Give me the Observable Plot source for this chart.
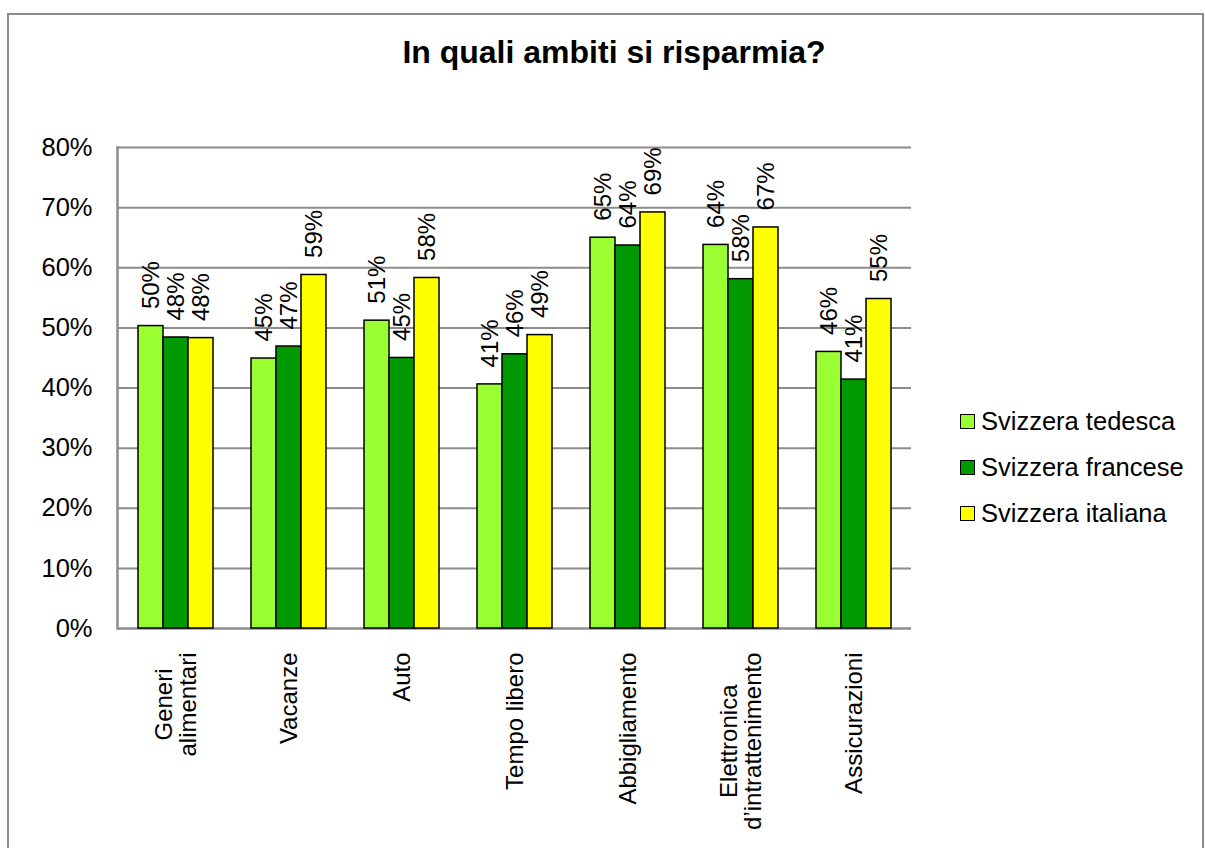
<!DOCTYPE html>
<html>
<head>
<meta charset="utf-8">
<script src="https://cdn.jsdelivr.net/npm/d3@7"></script>
<script src="https://cdn.jsdelivr.net/npm/@observablehq/plot@0.6"></script>
<style>
  html, body { margin: 0; padding: 0; background: #fff; overflow: hidden; }
  #page { position: relative; width: 1205px; height: 848px; font-family: "Liberation Sans", Arial, sans-serif; }
  #border { position: absolute; left: 7px; top: 13px; width: 1197px; height: 900px; border: 2px solid #8c8c8c; box-sizing: border-box; pointer-events: none; }
  #title { position: absolute; left: 314px; width: 600px; top: 34px; text-align: center; font-size: 32px; font-weight: bold; line-height: 1.15; color: #000; }
  .layer { position: absolute; left: 0; top: 0; }
  #legend { position: absolute; left: 960px; top: 406px; }
  .item { display: flex; align-items: center; height: 30px; margin-bottom: 16px; font-size: 25.5px; color: #000; }
  .sw { width: 13px; height: 13px; border: 1.5px solid #000; margin-right: 6px; box-sizing: content-box; }
</style>
</head>
<body>
<div id="page">
  <div id="grid" class="layer"></div>
  <div id="chart" class="layer"></div>
  <div id="title"></div>
  <div id="legend"></div>
  <div id="border"></div>
</div>
<script>
const title = "In quali ambiti si risparmia?";
const categories = ["Generi alimentari", "Vacanze", "Auto", "Tempo libero", "Abbigliamento", "Elettronica d’intrattenimento", "Assicurazioni"];
const categoryLabels = ["Generi\nalimentari", "Vacanze", "Auto", "Tempo libero", "Abbigliamento", "Elettronica\nd’intrattenimento", "Assicurazioni"];
const series = ["Svizzera tedesca", "Svizzera francese", "Svizzera italiana"];
const colors = ["#99ff33", "#009900", "#ffff00"];
const tedesca  = [50.3, 44.9, 51.2, 40.6, 65.0, 63.8, 46.0];
const francese = [48.4, 46.9, 45.0, 45.6, 63.7, 58.1, 41.4];
const italiana = [48.3, 58.8, 58.3, 48.8, 69.2, 66.7, 54.8];
const yTicks = [0, 10, 20, 30, 40, 50, 60, 70, 80];

const values = [tedesca, francese, italiana];
const rows = categories.flatMap((c, i) => series.map((s, j) => ({category: c, series: s, value: values[j][i]})));
const gridColor = "#8c8c8c";
const font = "'Liberation Sans', Arial, sans-serif";

document.getElementById("title").textContent = title;

const frameOpts = {
  width: 1205,
  height: 848,
  marginLeft: 117,
  marginRight: 294,
  marginTop: 147,
  marginBottom: 220,
  style: {background: "transparent", fontFamily: font, fontSize: "24px", color: "#000", overflow: "visible"}
};

// background layer: gridlines, axis lines, y tick labels
const grid = Plot.plot({
  ...frameOpts,
  y: {domain: [0, 80], axis: null},
  marks: [
    Plot.ruleY(yTicks.filter(d => d > 0), {stroke: gridColor, strokeWidth: 2}),
    Plot.ruleY([0], {stroke: gridColor, strokeWidth: 2.5}),
    Plot.frame({anchor: "left", stroke: gridColor, strokeWidth: 2.5}),
    Plot.axisY({ticks: yTicks, tickFormat: d => d + "%", tickSize: 0, tickPadding: 25, fontSize: 25.5, label: null, anchor: "left"})
  ]
});
document.getElementById("grid").appendChild(grid);

// measure the longest line of each category label so shorter lines are centred on it
const ctx = document.createElement("canvas").getContext("2d");
ctx.font = "24px " + font;
const halfLen = categoryLabels.map(l => d3.max(l.split("\n"), s => ctx.measureText(s).width) / 2);

const chart = Plot.plot({
  ...frameOpts,
  fx: {domain: categories, paddingInner: 0.338, paddingOuter: 0.169, axis: null, label: null},
  x: {domain: series, padding: 0, axis: null},
  y: {domain: [0, 80], axis: null},
  color: {domain: series, range: colors},
  marks: [
    Plot.barY(rows, {fx: "category", x: "series", y: "value", fill: "series", stroke: "#000", strokeWidth: 1.5}),
    Plot.text(rows, {fx: "category", x: "series", y: "value", text: d => Math.round(d.value) + "%", rotate: -90, textAnchor: "start", dy: -17, fontSize: 24, fill: "#000"}),
    ...categories.map((c, i) => Plot.text([c], {fx: d => d, text: () => categoryLabels[i], frameAnchor: "bottom", dy: 24 + halfLen[i], rotate: -90, textAnchor: "middle", lineAnchor: "middle", lineHeight: 1.0, fontSize: 24, fill: "#000"}))
  ]
});
document.getElementById("chart").appendChild(chart);

const legend = d3.select("#legend");
series.forEach((s, i) => {
  const item = legend.append("div").attr("class", "item");
  item.append("div").attr("class", "sw").style("background", colors[i]);
  item.append("span").text(s);
});
</script>
</body>
</html>
